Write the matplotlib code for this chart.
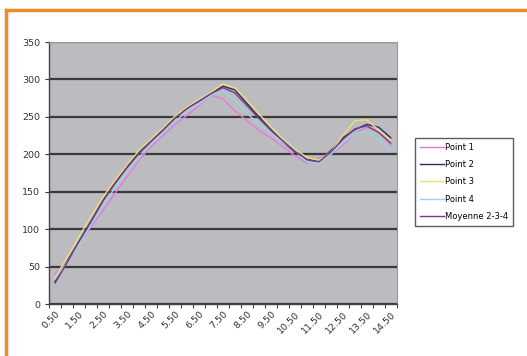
import numpy as np
import matplotlib.pyplot as plt
from matplotlib.lines import Line2D

categories = ['%.2f' % (0.5 + 0.5 * k) for k in range(29)]

point1 = [40, 58, 82, 103, 125, 148, 170, 192, 210, 225, 240, 252, 265, 279, 274,
          258, 245, 232, 222, 210, 198, 188, 195, 200, 212, 228, 236, 230, 212]
point2 = [30, 57, 83, 110, 138, 162, 183, 203, 218, 233, 250, 262, 271, 281, 291,
          286, 268, 250, 233, 217, 203, 193, 190, 205, 222, 233, 240, 236, 222]
point3 = [35, 62, 90, 117, 143, 165, 186, 205, 220, 235, 251, 263, 273, 283, 294,
          289, 272, 254, 237, 221, 207, 196, 192, 203, 225, 245, 246, 232, 218]
point4 = [33, 56, 80, 106, 132, 155, 177, 196, 213, 228, 244, 257, 267, 279, 284,
          272, 255, 240, 228, 217, 205, 190, 188, 200, 215, 228, 230, 220, 205]
moyenne = [28, 55, 84, 111, 138, 161, 182, 201, 217, 232, 248, 261, 271, 281, 289,
           282, 265, 248, 232, 218, 204, 193, 190, 203, 220, 234, 238, 229, 215]

series = [('Point 1', point1, '#e27ad8'),
          ('Point 2', point2, '#2c2c66'),
          ('Point 3', point3, '#ece070'),
          ('Point 4', point4, '#98d4e4'),
          ('Moyenne 2-3-4', moyenne, '#7a3a8c')]

fig = plt.figure(figsize=(5.27, 3.56), dpi=100)
ax = fig.add_axes([0.093, 0.146, 0.660, 0.736])
ax.set_facecolor('#bcbcc0')

x = np.arange(len(categories))
for name, vals, col in series:
    ax.plot(x, vals, color=col, lw=1.0, label=name)

ax.set_xlim(-0.5, len(categories) - 0.5)
ax.set_ylim(0, 350)
ax.set_yticks(range(0, 351, 50))
ax.yaxis.grid(True, color='#3a3a3a', lw=1.6)
ax.set_axisbelow(True)

ax.set_xticks(x[::2])
ax.set_xticklabels(categories[::2], rotation=45, ha='right', rotation_mode='anchor')
ax.set_xticks(np.arange(-0.5, len(categories), 1), minor=True)
ax.tick_params(axis='x', which='major', length=0, labelsize=6.8, pad=4, colors='#333333')
ax.tick_params(axis='x', which='minor', length=3, width=0.8, color='#444444')
ax.tick_params(axis='y', length=3, width=0.8, labelsize=6.8, colors='#333333')

for s in ['top', 'right']:
    ax.spines[s].set_color('#999999')
    ax.spines[s].set_linewidth(0.8)
for s in ['left', 'bottom']:
    ax.spines[s].set_color('#444444')
    ax.spines[s].set_linewidth(1.0)

leg = fig.legend(loc='upper left', bbox_to_anchor=(0.788, 0.612), fontsize=6.0,
                 frameon=True, fancybox=False, edgecolor='#333333',
                 handlelength=2.9, handletextpad=0.1, labelspacing=1.0,
                 borderpad=0.55, borderaxespad=0.0)
leg.get_frame().set_linewidth(1.0)

# orange frame (top and left edges)
orange = '#f08a2c'
fig.add_artist(Line2D([0.011, 1.0], [0.972, 0.972], color=orange, lw=2.5,
                      transform=fig.transFigure))
fig.add_artist(Line2D([0.011, 0.011], [0.0, 0.972], color=orange, lw=2.5,
                      transform=fig.transFigure))

fig.savefig('out.png', dpi=100)
